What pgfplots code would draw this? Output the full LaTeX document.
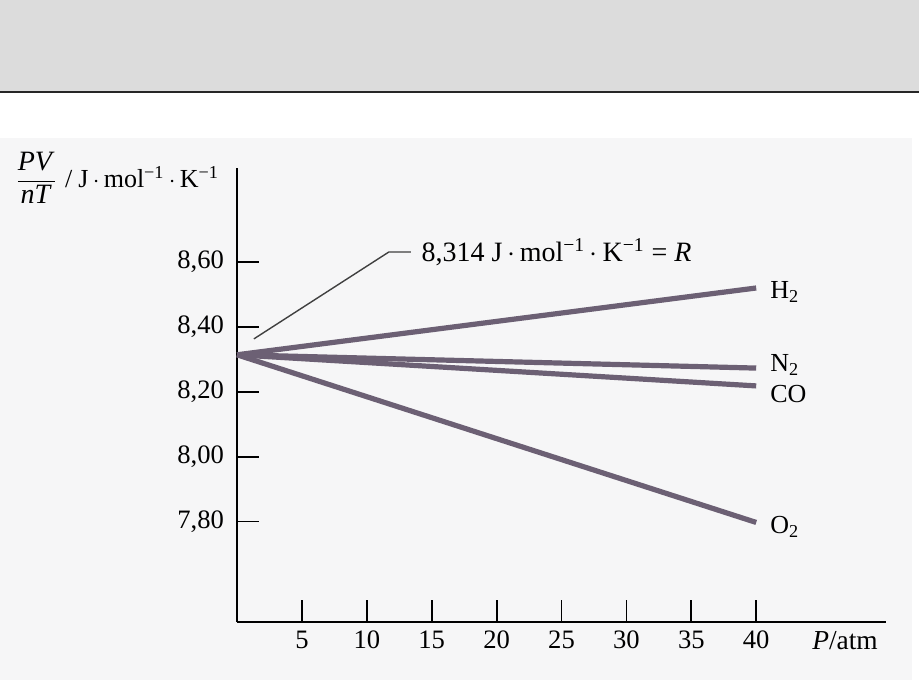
\documentclass[border=0pt]{standalone}
\usepackage{fontspec}
\setmainfont{Liberation Serif}
\usepackage{pgfplots}
\pgfplotsset{compat=1.18}
\definecolor{linec}{HTML}{6C6074}
\definecolor{band}{HTML}{DCDCDC}
\definecolor{paper}{HTML}{F6F6F7}
\newcommand{\um}{\textsuperscript{−1}}
\begin{document}
\fontsize{13}{15}\selectfont
\begin{tikzpicture}[x=0.5pt,y=0.5pt]
\useasboundingbox (0,0) rectangle (919,680);
\fill[band] (0,589) rectangle (919,680);
\draw[line width=1pt, black!85] (0,588) -- (919,588);
\fill[paper] (0,0) rectangle (912,542);
\begin{axis}[
  at={(118.5pt,29pt)}, anchor=south west,
  scale only axis, width=324.5pt, height=227pt,
  xmin=0, xmax=50, ymin=7.49, ymax=8.89,
  axis x line=bottom, axis y line=left,
  axis line style={-, line width=1pt, black},
  xtick={5,10,...,40}, ytick={7.8,8.0,8.2,8.4,8.6},
  tick align=inside, major tick length=11pt,
  tick style={line width=0.9pt, black},
  ticklabel style={font=\fontsize{13.3}{15}\selectfont},
  /pgf/number format/assume math mode=true,
  yticklabel style={xshift=-2pt, /pgf/number format/.cd, fixed, fixed zerofill, precision=2, use comma},
  clip=false,
]
\addplot[linec, line width=2.6pt] coordinates {(0,8.314) (40,8.520)};
\addplot[linec, line width=2.6pt] coordinates {(0,8.314) (40,8.273)};
\addplot[linec, line width=2.6pt] coordinates {(0,8.314) (40,8.218)};
\addplot[linec, line width=2.6pt] coordinates {(0,8.314) (40,7.797)};
\node[anchor=west, inner sep=1pt] at (axis cs:40.9,8.508) {H\textsubscript{2}};
\node[anchor=west, inner sep=1pt] at (axis cs:40.9,8.283) {N\textsubscript{2}};
\node[anchor=west, inner sep=1pt] at (axis cs:40.9,8.193) {CO};
\node[anchor=west, inner sep=1pt] at (axis cs:40.9,7.783) {O\textsubscript{2}};
\draw[line width=0.7pt, black!75] (axis cs:1.3,8.363) -- (axis cs:11.7,8.631) -- (axis cs:13.4,8.631)
  node[anchor=west, black, inner sep=0pt, xshift=5pt, font=\fontsize{14}{15}\selectfont] {8,314 J\,$\cdot$\,mol\um\,$\cdot$\,K\um{} = \textit{R}};
\end{axis}
\node[anchor=center, font=\fontsize{13.7}{15}\selectfont] at (845,39) {\textit{P}/atm};
\node[anchor=west, inner sep=0pt] at (15,502) {$\displaystyle\frac{\mbox{\fontsize{14}{14}\selectfont\textit{PV}}}{\mbox{\fontsize{14}{14}\selectfont\textit{nT}}}$\hspace{4pt}/\hspace{3pt}J\,$\cdot$\,mol\um\,$\cdot$\,K\um};
\end{tikzpicture}
\end{document}
